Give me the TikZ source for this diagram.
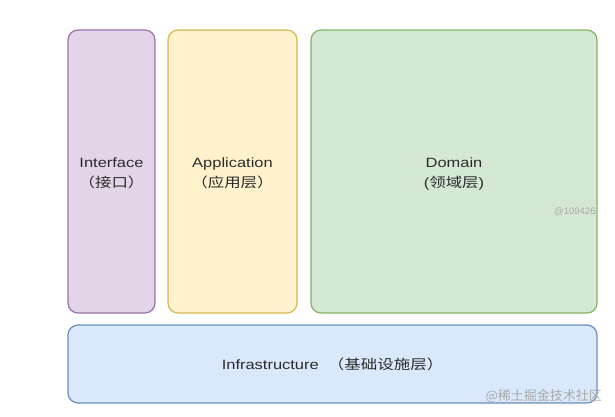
\documentclass[tikz,border=0pt]{standalone}
\usepackage{fontspec}
\setmainfont{Liberation Sans}
\newfontfamily\cjk{Noto Sans CJK SC}
\usetikzlibrary{positioning}
\definecolor{interfond}{HTML}{E1D5E7}
\definecolor{intertrait}{HTML}{9673A6}
\definecolor{appfond}{HTML}{FFF2CC}
\definecolor{apptrait}{HTML}{D6B656}
\definecolor{domfond}{HTML}{D5E8D4}
\definecolor{domtrait}{HTML}{82B366}
\definecolor{infrafond}{HTML}{DAE8FC}
\definecolor{infratrait}{HTML}{6C8EBF}
\definecolor{texte}{HTML}{2B2B2B}
\definecolor{filigrane}{HTML}{AAAAAA}
% deux lignes, un peu elargies comme dans le schema
\newcommand{\couche}[2]{\scalebox{1.22}[1]{\begin{tabular}{@{}c@{}}\rule{0pt}{16.5pt}#1\\[4pt]#2\end{tabular}}}

\begin{document}
\begin{tikzpicture}[x=1pt, y=-1pt,
    layer/.style={rectangle, rounded corners=10pt, line width=1.2pt,
                  text=texte, font=\fontsize{13.5}{15}\selectfont,
                  inner sep=0pt, outer sep=0pt}]
  \useasboundingbox (0,0) rectangle (615,417);

  % --- trois couches verticales ----------------------------------------
  \node[layer, fill=interfond, draw=intertrait,
        minimum width=87pt, minimum height=283pt] (interface) at (111.5,171.5)
       {\couche{Interface}{\cjk （接口）}};
  \node[layer, fill=appfond, draw=apptrait, right=13pt of interface,
        minimum width=129pt, minimum height=283pt] (application)
       {\couche{Application}{\cjk （应用层）}};
  \node[layer, fill=domfond, draw=domtrait, right=14pt of application,
        minimum width=286pt, minimum height=283pt] (domain)
       {\couche{Domain}{({\cjk 领域层})}};

  % --- filigrane du haut, coupe par le bord du domaine ------------------
  \begin{scope}
    \clip (540,200) rectangle (595,225);
    \node[filigrane, font=\fontsize{9.5}{10}\selectfont, anchor=west,
          inner sep=0pt] (idauteur) at (554,212) {@10942600};
  \end{scope}

  % --- socle infrastructure --------------------------------------------
  \node[layer, fill=infrafond, draw=infratrait,
        below=12pt of interface.south west, anchor=north west,
        minimum width=529pt, minimum height=78pt] (infra)
       {\scalebox{1.22}[1]{Infrastructure\ \ {\cjk （基础设施层）}}};

  % --- filigrane du bas ------------------------------------------------
  \node[filigrane, font=\cjk\fontsize{13}{14}\selectfont, anchor=east,
        inner sep=0pt] (site) at (602,396) {@稀土掘金技术社区};
\end{tikzpicture}
\end{document}
